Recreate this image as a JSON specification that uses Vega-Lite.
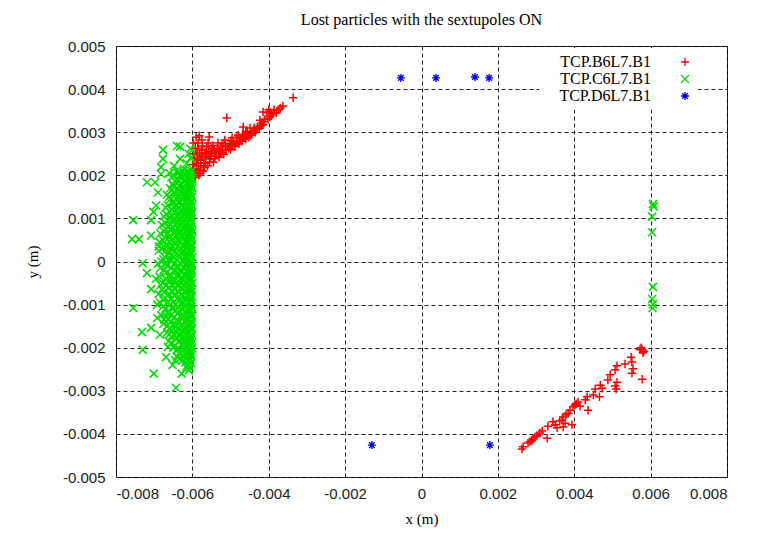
{
  "$schema": "https://vega.github.io/schema/vega-lite/v6.json",
  "autosize": {"type": "none"},
  "width": 611,
  "height": 431,
  "padding": {"left": 116, "top": 46, "right": 30, "bottom": 66},
  "background": "white",
  "title": {"text": "Lost particles with the sextupoles ON", "font": "Liberation Serif", "fontSize": 16, "fontWeight": "normal", "color": "black", "offset": 11},
  "config": {
    "view": {"stroke": "black", "strokeWidth": 1},
    "axis": {"domain": false, "ticks": false, "grid": true, "gridColor": "#222222", "gridDash": [4, 3], "gridWidth": 1, "gridOpacity": 1, "labelFont": "Liberation Sans", "labelFontSize": 15, "labelColor": "#222222", "titleFont": "Liberation Serif", "titleFontSize": 15, "titleFontWeight": "normal", "titleColor": "black"}
  },
  "datasets": {
    "B": [
      {"x": -0.00595, "y": 0.00195}, {"x": -0.00592, "y": 0.00205}, {"x": -0.00596, "y": 0.00215}, {"x": -0.0059, "y": 0.00228}, {"x": -0.00594, "y": 0.0024}, {"x": -0.00588, "y": 0.00252}, {"x": -0.00592, "y": 0.00263}, {"x": -0.00585, "y": 0.00275}, {"x": -0.0059, "y": 0.00288},
      {"x": -0.00583, "y": 0.002}, {"x": -0.0058, "y": 0.00212}, {"x": -0.00584, "y": 0.00222}, {"x": -0.00578, "y": 0.00235}, {"x": -0.00581, "y": 0.00247}, {"x": -0.00576, "y": 0.00258}, {"x": -0.00575, "y": 0.00282},
      {"x": -0.00572, "y": 0.0021}, {"x": -0.00568, "y": 0.00218}, {"x": -0.0057, "y": 0.00229}, {"x": -0.00565, "y": 0.00241}, {"x": -0.00567, "y": 0.00253}, {"x": -0.00563, "y": 0.00266}, {"x": -0.00556, "y": 0.00289},
      {"x": -0.0056, "y": 0.00222}, {"x": -0.00555, "y": 0.00231}, {"x": -0.00552, "y": 0.00244}, {"x": -0.00557, "y": 0.00255}, {"x": -0.00549, "y": 0.00262},
      {"x": -0.00545, "y": 0.0023}, {"x": -0.00541, "y": 0.00239}, {"x": -0.00538, "y": 0.0025}, {"x": -0.00543, "y": 0.00258}, {"x": -0.00533, "y": 0.00275},
      {"x": -0.0053, "y": 0.00242}, {"x": -0.00527, "y": 0.00251}, {"x": -0.00522, "y": 0.0026}, {"x": -0.00525, "y": 0.00268}, {"x": -0.00515, "y": 0.00282},
      {"x": -0.00518, "y": 0.00249}, {"x": -0.00512, "y": 0.00258}, {"x": -0.00508, "y": 0.00266}, {"x": -0.00503, "y": 0.00273}, {"x": -0.0051, "y": 0.00333},
      {"x": -0.005, "y": 0.00259}, {"x": -0.00496, "y": 0.00268}, {"x": -0.00496, "y": 0.00287}, {"x": -0.00492, "y": 0.00276}, {"x": -0.00488, "y": 0.00267},
      {"x": -0.00484, "y": 0.0028}, {"x": -0.0048, "y": 0.00293}, {"x": -0.00478, "y": 0.00273}, {"x": -0.00474, "y": 0.00285}, {"x": -0.0047, "y": 0.00279},
      {"x": -0.00467, "y": 0.00312}, {"x": -0.00465, "y": 0.0029}, {"x": -0.0046, "y": 0.003}, {"x": -0.0046, "y": 0.00284}, {"x": -0.00455, "y": 0.00293},
      {"x": -0.00449, "y": 0.0031}, {"x": -0.00452, "y": 0.00288}, {"x": -0.00445, "y": 0.00297}, {"x": -0.0044, "y": 0.00304}, {"x": -0.00435, "y": 0.003},
      {"x": -0.0043, "y": 0.00312}, {"x": -0.00423, "y": 0.00328}, {"x": -0.00425, "y": 0.00309}, {"x": -0.00415, "y": 0.00317}, {"x": -0.00418, "y": 0.00322},
      {"x": -0.00415, "y": 0.00347}, {"x": -0.0041, "y": 0.0033}, {"x": -0.004, "y": 0.00352}, {"x": -0.00397, "y": 0.00335}, {"x": -0.00392, "y": 0.0034},
      {"x": -0.00386, "y": 0.00352}, {"x": -0.0038, "y": 0.00345}, {"x": -0.0037, "y": 0.00356}, {"x": -0.00363, "y": 0.00361}, {"x": -0.00336, "y": 0.0038}, {"x": -0.00405, "y": 0.00345},
      {"x": -0.00598, "y": 0.002}, {"x": -0.00598, "y": 0.00225}, {"x": -0.00597, "y": 0.0025}, {"x": -0.00597, "y": 0.00275}, {"x": -0.00588, "y": 0.00215},
      {"x": -0.00586, "y": 0.00238}, {"x": -0.00586, "y": 0.00262}, {"x": -0.00582, "y": 0.00292}, {"x": -0.00578, "y": 0.00222}, {"x": -0.00574, "y": 0.00245},
      {"x": -0.00573, "y": 0.00268}, {"x": -0.00566, "y": 0.00228}, {"x": -0.00562, "y": 0.0025}, {"x": -0.00559, "y": 0.00275}, {"x": -0.00553, "y": 0.00238},
      {"x": -0.0055, "y": 0.00253}, {"x": -0.00546, "y": 0.00269}, {"x": -0.0054, "y": 0.00245}, {"x": -0.00535, "y": 0.00262}, {"x": -0.0053, "y": 0.00257},
      {"x": -0.00523, "y": 0.00253}, {"x": -0.0052, "y": 0.00273}, {"x": -0.00513, "y": 0.00268}, {"x": -0.00505, "y": 0.00262}, {"x": -0.00499, "y": 0.0028},
      {"x": -0.0049, "y": 0.0027}, {"x": -0.00485, "y": 0.00288}, {"x": -0.00476, "y": 0.0028}, {"x": -0.00468, "y": 0.00295}, {"x": -0.00462, "y": 0.00288},
      {"x": -0.00456, "y": 0.00302}, {"x": -0.00447, "y": 0.00293}, {"x": -0.00438, "y": 0.0031}, {"x": -0.00432, "y": 0.00306}, {"x": -0.0042, "y": 0.00315},
      {"x": -0.00412, "y": 0.00325}, {"x": -0.00402, "y": 0.0033}, {"x": -0.00395, "y": 0.00346}, {"x": -0.00388, "y": 0.00345}, {"x": -0.00375, "y": 0.00352},
      {"x": -0.00592, "y": 0.00196}, {"x": -0.00579, "y": 0.00205},
      {"x": 0.00578, "y": -0.00205}, {"x": 0.00575, "y": -0.002}, {"x": 0.00582, "y": -0.00208}, {"x": 0.00572, "y": -0.00204}, {"x": 0.0058, "y": -0.00212},
      {"x": 0.00549, "y": -0.00222}, {"x": 0.00551, "y": -0.00233}, {"x": 0.00533, "y": -0.00238}, {"x": 0.00512, "y": -0.00242}, {"x": 0.00507, "y": -0.00252},
      {"x": 0.00494, "y": -0.00263}, {"x": 0.00554, "y": -0.00249}, {"x": 0.00551, "y": -0.00259}, {"x": 0.00578, "y": -0.00273}, {"x": 0.00488, "y": -0.00275},
      {"x": 0.00512, "y": -0.0028}, {"x": 0.00507, "y": -0.00289}, {"x": 0.0051, "y": -0.00296}, {"x": 0.00468, "y": -0.00287}, {"x": 0.00473, "y": -0.00294},
      {"x": 0.00455, "y": -0.00296}, {"x": 0.0045, "y": -0.0031}, {"x": 0.00466, "y": -0.00314}, {"x": 0.00434, "y": -0.00314}, {"x": 0.00429, "y": -0.00321},
      {"x": 0.0041, "y": -0.00326}, {"x": 0.00402, "y": -0.00333}, {"x": 0.00397, "y": -0.00337}, {"x": 0.00436, "y": -0.00345}, {"x": 0.00389, "y": -0.00345},
      {"x": 0.00384, "y": -0.00352}, {"x": 0.00378, "y": -0.00356}, {"x": 0.00371, "y": -0.00361}, {"x": 0.00368, "y": -0.00368}, {"x": 0.00376, "y": -0.00375},
      {"x": 0.00344, "y": -0.00372}, {"x": 0.0035, "y": -0.00379}, {"x": 0.00331, "y": -0.00382}, {"x": 0.00394, "y": -0.00379}, {"x": 0.00371, "y": -0.00384},
      {"x": 0.00316, "y": -0.00393}, {"x": 0.00297, "y": -0.00407}, {"x": 0.00292, "y": -0.00412}, {"x": 0.00289, "y": -0.00416}, {"x": 0.00329, "y": -0.0041},
      {"x": 0.00279, "y": -0.00421}, {"x": 0.00266, "y": -0.0043}, {"x": 0.00263, "y": -0.00435}, {"x": 0.00355, "y": -0.00386}, {"x": 0.00362, "y": -0.0037},
      {"x": 0.00405, "y": -0.0033}, {"x": 0.00415, "y": -0.00336}, {"x": 0.00302, "y": -0.00404}, {"x": 0.0031, "y": -0.00398}, {"x": 0.00284, "y": -0.00418}
    ],
    "C": [
      {"x": -0.0064, "y": 0.00268}, {"x": -0.00632, "y": 0.00266}, {"x": -0.00677, "y": 0.00259}, {"x": -0.00677, "y": 0.00238}, {"x": -0.00632, "y": 0.00238},
      {"x": -0.00682, "y": 0.00219}, {"x": -0.00682, "y": 0.00203}, {"x": -0.0061, "y": 0.0025}, {"x": -0.00615, "y": 0.00228}, {"x": -0.00605, "y": 0.0024},
      {"x": -0.00622, "y": 0.00215}, {"x": -0.00648, "y": 0.00222}, {"x": -0.00605, "y": 0.00262}, {"x": -0.00612, "y": 0.00205}, {"x": -0.0064, "y": 0.0021}, {"x": -0.0066, "y": 0.00205},
      {"x": -0.00719, "y": 0.00184}, {"x": -0.00698, "y": 0.00184}, {"x": -0.00755, "y": 0.00096}, {"x": -0.00708, "y": 0.00096}, {"x": -0.00758, "y": 0.00052},
      {"x": -0.0074, "y": 0.00052}, {"x": -0.00708, "y": 0.0006}, {"x": -0.00755, "y": -0.00108}, {"x": -0.00732, "y": -0.00164}, {"x": -0.00708, "y": -0.00154},
      {"x": -0.0073, "y": -0.00205}, {"x": -0.00701, "y": -0.0026}, {"x": -0.00643, "y": -0.00293}, {"x": -0.00719, "y": -0.00027}, {"x": -0.00708, "y": -0.00064},
      {"x": -0.00692, "y": -0.00131}, {"x": -0.00669, "y": -0.00222}, {"x": -0.00664, "y": -0.00198}, {"x": -0.00645, "y": -0.00229}, {"x": -0.00609, "y": -0.00252},
      {"x": -0.0073, "y": -0.00004}, {"x": -0.00692, "y": -0.001}, {"x": -0.00695, "y": 0.0013}, {"x": -0.00702, "y": 0.00115}, {"x": -0.00688, "y": 0.00035},
      {"x": -0.00696, "y": -0.0004}, {"x": -0.00685, "y": -0.0017}, {"x": -0.00652, "y": -0.0024}, {"x": -0.00628, "y": -0.0026}, {"x": -0.0069, "y": 0.0016},
      {"x": -0.00602, "y": 0.0021}, {"x": -0.00611, "y": 0.0021}, {"x": -0.00625, "y": 0.0021},
      {"x": -0.00604, "y": 0.002}, {"x": -0.00618, "y": 0.002}, {"x": -0.00633, "y": 0.002}, {"x": -0.00648, "y": 0.002},
      {"x": -0.00601, "y": 0.0019}, {"x": -0.00609, "y": 0.0019}, {"x": -0.00622, "y": 0.0019}, {"x": -0.00641, "y": 0.0019},
      {"x": -0.00603, "y": 0.0018}, {"x": -0.00615, "y": 0.0018}, {"x": -0.00629, "y": 0.0018}, {"x": -0.00652, "y": 0.0018},
      {"x": -0.006, "y": 0.0017}, {"x": -0.00612, "y": 0.0017}, {"x": -0.00626, "y": 0.0017}, {"x": -0.00639, "y": 0.0017}, {"x": -0.00658, "y": 0.0017},
      {"x": -0.00605, "y": 0.0016}, {"x": -0.00617, "y": 0.0016}, {"x": -0.00631, "y": 0.0016}, {"x": -0.00646, "y": 0.0016},
      {"x": -0.00601, "y": 0.0015}, {"x": -0.00613, "y": 0.0015}, {"x": -0.00624, "y": 0.0015}, {"x": -0.00637, "y": 0.0015}, {"x": -0.00661, "y": 0.0015},
      {"x": -0.00603, "y": 0.0014}, {"x": -0.00619, "y": 0.0014}, {"x": -0.00634, "y": 0.0014}, {"x": -0.0065, "y": 0.0014},
      {"x": -0.006, "y": 0.0013}, {"x": -0.0061, "y": 0.0013}, {"x": -0.00627, "y": 0.0013}, {"x": -0.00643, "y": 0.0013}, {"x": -0.00664, "y": 0.0013},
      {"x": -0.00604, "y": 0.0012}, {"x": -0.00616, "y": 0.0012}, {"x": -0.0063, "y": 0.0012}, {"x": -0.00655, "y": 0.0012},
      {"x": -0.00602, "y": 0.0011}, {"x": -0.00611, "y": 0.0011}, {"x": -0.00623, "y": 0.0011}, {"x": -0.00638, "y": 0.0011}, {"x": -0.00668, "y": 0.0011},
      {"x": -0.00605, "y": 0.001}, {"x": -0.00619, "y": 0.001}, {"x": -0.00633, "y": 0.001}, {"x": -0.00647, "y": 0.001}, {"x": -0.0066, "y": 0.001},
      {"x": -0.00601, "y": 0.0009}, {"x": -0.00614, "y": 0.0009}, {"x": -0.00628, "y": 0.0009}, {"x": -0.00642, "y": 0.0009}, {"x": -0.00671, "y": 0.0009},
      {"x": -0.00603, "y": 0.0008}, {"x": -0.00612, "y": 0.0008}, {"x": -0.00625, "y": 0.0008}, {"x": -0.00651, "y": 0.0008}, {"x": -0.00665, "y": 0.0008},
      {"x": -0.006, "y": 0.0007}, {"x": -0.00617, "y": 0.0007}, {"x": -0.00632, "y": 0.0007}, {"x": -0.00645, "y": 0.0007}, {"x": -0.00674, "y": 0.0007},
      {"x": -0.00604, "y": 0.0006}, {"x": -0.00613, "y": 0.0006}, {"x": -0.00627, "y": 0.0006}, {"x": -0.0064, "y": 0.0006}, {"x": -0.00659, "y": 0.0006},
      {"x": -0.00602, "y": 0.0005}, {"x": -0.00618, "y": 0.0005}, {"x": -0.00636, "y": 0.0005}, {"x": -0.00653, "y": 0.0005}, {"x": -0.00677, "y": 0.0005},
      {"x": -0.00601, "y": 0.0004}, {"x": -0.00611, "y": 0.0004}, {"x": -0.00624, "y": 0.0004}, {"x": -0.00644, "y": 0.0004}, {"x": -0.00668, "y": 0.0004},
      {"x": -0.00605, "y": 0.0003}, {"x": -0.00616, "y": 0.0003}, {"x": -0.0063, "y": 0.0003}, {"x": -0.00657, "y": 0.0003}, {"x": -0.00679, "y": 0.0003},
      {"x": -0.00603, "y": 0.0002}, {"x": -0.00614, "y": 0.0002}, {"x": -0.00629, "y": 0.0002}, {"x": -0.00641, "y": 0.0002}, {"x": -0.00662, "y": 0.0002},
      {"x": -0.006, "y": 0.0001}, {"x": -0.00619, "y": 0.0001}, {"x": -0.00634, "y": 0.0001}, {"x": -0.00649, "y": 0.0001}, {"x": -0.00672, "y": 0.0001},
      {"x": -0.00604, "y": 0.0}, {"x": -0.00612, "y": 0.0}, {"x": -0.00626, "y": 0.0}, {"x": -0.00655, "y": 0.0}, {"x": -0.00681, "y": 0.0},
      {"x": -0.00602, "y": -0.0001}, {"x": -0.00617, "y": -0.0001}, {"x": -0.00638, "y": -0.0001}, {"x": -0.00666, "y": -0.0001},
      {"x": -0.00601, "y": -0.0002}, {"x": -0.00613, "y": -0.0002}, {"x": -0.00631, "y": -0.0002}, {"x": -0.00646, "y": -0.0002}, {"x": -0.00675, "y": -0.0002},
      {"x": -0.00605, "y": -0.0003}, {"x": -0.0062, "y": -0.0003}, {"x": -0.00635, "y": -0.0003}, {"x": -0.00658, "y": -0.0003},
      {"x": -0.00603, "y": -0.0004}, {"x": -0.00611, "y": -0.0004}, {"x": -0.00627, "y": -0.0004}, {"x": -0.0065, "y": -0.0004}, {"x": -0.0067, "y": -0.0004},
      {"x": -0.006, "y": -0.0005}, {"x": -0.00616, "y": -0.0005}, {"x": -0.00632, "y": -0.0005}, {"x": -0.00643, "y": -0.0005}, {"x": -0.00678, "y": -0.0005},
      {"x": -0.00604, "y": -0.0006}, {"x": -0.00614, "y": -0.0006}, {"x": -0.00629, "y": -0.0006}, {"x": -0.00661, "y": -0.0006},
      {"x": -0.00602, "y": -0.0007}, {"x": -0.00618, "y": -0.0007}, {"x": -0.00637, "y": -0.0007}, {"x": -0.00654, "y": -0.0007}, {"x": -0.00673, "y": -0.0007},
      {"x": -0.00601, "y": -0.0008}, {"x": -0.00612, "y": -0.0008}, {"x": -0.00625, "y": -0.0008}, {"x": -0.00647, "y": -0.0008}, {"x": -0.00665, "y": -0.0008},
      {"x": -0.00605, "y": -0.0009}, {"x": -0.00619, "y": -0.0009}, {"x": -0.00634, "y": -0.0009}, {"x": -0.00676, "y": -0.0009},
      {"x": -0.00603, "y": -0.001}, {"x": -0.00615, "y": -0.001}, {"x": -0.0063, "y": -0.001}, {"x": -0.00644, "y": -0.001}, {"x": -0.00659, "y": -0.001},
      {"x": -0.006, "y": -0.0011}, {"x": -0.00611, "y": -0.0011}, {"x": -0.00626, "y": -0.0011}, {"x": -0.00652, "y": -0.0011}, {"x": -0.00671, "y": -0.0011},
      {"x": -0.00604, "y": -0.0012}, {"x": -0.00617, "y": -0.0012}, {"x": -0.00639, "y": -0.0012}, {"x": -0.00663, "y": -0.0012},
      {"x": -0.00602, "y": -0.0013}, {"x": -0.00613, "y": -0.0013}, {"x": -0.00628, "y": -0.0013}, {"x": -0.00648, "y": -0.0013}, {"x": -0.00669, "y": -0.0013},
      {"x": -0.00601, "y": -0.0014}, {"x": -0.0062, "y": -0.0014}, {"x": -0.00635, "y": -0.0014}, {"x": -0.00657, "y": -0.0014},
      {"x": -0.00605, "y": -0.0015}, {"x": -0.00614, "y": -0.0015}, {"x": -0.00631, "y": -0.0015}, {"x": -0.00645, "y": -0.0015}, {"x": -0.00666, "y": -0.0015},
      {"x": -0.00603, "y": -0.0016}, {"x": -0.00618, "y": -0.0016}, {"x": -0.00627, "y": -0.0016}, {"x": -0.00653, "y": -0.0016},
      {"x": -0.006, "y": -0.0017}, {"x": -0.00612, "y": -0.0017}, {"x": -0.00633, "y": -0.0017}, {"x": -0.00648, "y": -0.0017}, {"x": -0.00661, "y": -0.0017},
      {"x": -0.00604, "y": -0.0018}, {"x": -0.00616, "y": -0.0018}, {"x": -0.00629, "y": -0.0018}, {"x": -0.00643, "y": -0.0018},
      {"x": -0.00602, "y": -0.0019}, {"x": -0.00611, "y": -0.0019}, {"x": -0.00624, "y": -0.0019}, {"x": -0.00656, "y": -0.0019},
      {"x": -0.00601, "y": -0.002}, {"x": -0.00619, "y": -0.002}, {"x": -0.00637, "y": -0.002}, {"x": -0.0065, "y": -0.002},
      {"x": -0.00605, "y": -0.0021}, {"x": -0.00614, "y": -0.0021}, {"x": -0.0063, "y": -0.0021},
      {"x": -0.00603, "y": -0.0022}, {"x": -0.00622, "y": -0.0022}, {"x": -0.00641, "y": -0.0022},
      {"x": -0.00608, "y": -0.0023}, {"x": -0.00626, "y": -0.0023}, {"x": -0.00612, "y": -0.0024},
      {"x": -0.00607, "y": 0.00205}, {"x": -0.00621, "y": 0.00205}, {"x": -0.00638, "y": 0.00205},
      {"x": -0.00603, "y": 0.00195}, {"x": -0.00614, "y": 0.00195}, {"x": -0.0063, "y": 0.00195}, {"x": -0.00655, "y": 0.00195},
      {"x": -0.00606, "y": 0.00185}, {"x": -0.0062, "y": 0.00185}, {"x": -0.00636, "y": 0.00185}, {"x": -0.00645, "y": 0.00185},
      {"x": -0.00602, "y": 0.00175}, {"x": -0.0061, "y": 0.00175}, {"x": -0.00633, "y": 0.00175}, {"x": -0.00649, "y": 0.00175},
      {"x": -0.00607, "y": 0.00165}, {"x": -0.00622, "y": 0.00165}, {"x": -0.00636, "y": 0.00165}, {"x": -0.00654, "y": 0.00165},
      {"x": -0.00604, "y": 0.00155}, {"x": -0.00619, "y": 0.00155}, {"x": -0.00629, "y": 0.00155}, {"x": -0.00644, "y": 0.00155}, {"x": -0.00667, "y": 0.00155},
      {"x": -0.00606, "y": 0.00145}, {"x": -0.00612, "y": 0.00145}, {"x": -0.00626, "y": 0.00145}, {"x": -0.00641, "y": 0.00145}, {"x": -0.00657, "y": 0.00145},
      {"x": -0.00603, "y": 0.00135}, {"x": -0.00617, "y": 0.00135}, {"x": -0.00635, "y": 0.00135}, {"x": -0.00652, "y": 0.00135},
      {"x": -0.00607, "y": 0.00125}, {"x": -0.00621, "y": 0.00125}, {"x": -0.00637, "y": 0.00125}, {"x": -0.00648, "y": 0.00125}, {"x": -0.0067, "y": 0.00125},
      {"x": -0.00602, "y": 0.00115}, {"x": -0.00615, "y": 0.00115}, {"x": -0.00628, "y": 0.00115}, {"x": -0.00645, "y": 0.00115}, {"x": -0.00659, "y": 0.00115},
      {"x": -0.00606, "y": 0.00105}, {"x": -0.00612, "y": 0.00105}, {"x": -0.00626, "y": 0.00105}, {"x": -0.0064, "y": 0.00105}, {"x": -0.00654, "y": 0.00105}, {"x": -0.00675, "y": 0.00105},
      {"x": -0.00603, "y": 0.00095}, {"x": -0.0062, "y": 0.00095}, {"x": -0.00635, "y": 0.00095}, {"x": -0.00649, "y": 0.00095}, {"x": -0.00663, "y": 0.00095},
      {"x": -0.00607, "y": 0.00085}, {"x": -0.00616, "y": 0.00085}, {"x": -0.00631, "y": 0.00085}, {"x": -0.00644, "y": 0.00085}, {"x": -0.00658, "y": 0.00085}, {"x": -0.0068, "y": 0.00085},
      {"x": -0.00602, "y": 0.00075}, {"x": -0.00611, "y": 0.00075}, {"x": -0.00623, "y": 0.00075}, {"x": -0.00638, "y": 0.00075}, {"x": -0.00656, "y": 0.00075}, {"x": -0.00669, "y": 0.00075},
      {"x": -0.00606, "y": 0.00065}, {"x": -0.00621, "y": 0.00065}, {"x": -0.00634, "y": 0.00065}, {"x": -0.00648, "y": 0.00065}, {"x": -0.00664, "y": 0.00065}, {"x": -0.00684, "y": 0.00065},
      {"x": -0.00604, "y": 0.00055}, {"x": -0.00613, "y": 0.00055}, {"x": -0.00627, "y": 0.00055}, {"x": -0.00645, "y": 0.00055}, {"x": -0.00661, "y": 0.00055}, {"x": -0.00671, "y": 0.00055},
      {"x": -0.00607, "y": 0.00045}, {"x": -0.00616, "y": 0.00045}, {"x": -0.00632, "y": 0.00045}, {"x": -0.00648, "y": 0.00045}, {"x": -0.00659, "y": 0.00045}, {"x": -0.00686, "y": 0.00045},
      {"x": -0.00602, "y": 0.00035}, {"x": -0.00622, "y": 0.00035}, {"x": -0.00638, "y": 0.00035}, {"x": -0.00651, "y": 0.00035}, {"x": -0.00666, "y": 0.00035},
      {"x": -0.00606, "y": 0.00025}, {"x": -0.00611, "y": 0.00025}, {"x": -0.00625, "y": 0.00025}, {"x": -0.00646, "y": 0.00025}, {"x": -0.00669, "y": 0.00025}, {"x": -0.00688, "y": 0.00025},
      {"x": -0.00604, "y": 0.00015}, {"x": -0.00617, "y": 0.00015}, {"x": -0.00637, "y": 0.00015}, {"x": -0.00654, "y": 0.00015}, {"x": -0.00665, "y": 0.00015},
      {"x": -0.00607, "y": 0.00005}, {"x": -0.00622, "y": 0.00005}, {"x": -0.00641, "y": 0.00005}, {"x": -0.0066, "y": 0.00005}, {"x": -0.00676, "y": 0.00005},
      {"x": -0.00603, "y": -0.00005}, {"x": -0.00615, "y": -0.00005}, {"x": -0.00631, "y": -0.00005}, {"x": -0.00647, "y": -0.00005}, {"x": -0.00668, "y": -0.00005}, {"x": -0.0069, "y": -0.00005},
      {"x": -0.00606, "y": -0.00015}, {"x": -0.00624, "y": -0.00015}, {"x": -0.00642, "y": -0.00015}, {"x": -0.00655, "y": -0.00015}, {"x": -0.00684, "y": -0.00015},
      {"x": -0.00602, "y": -0.00025}, {"x": -0.00611, "y": -0.00025}, {"x": -0.00628, "y": -0.00025}, {"x": -0.00645, "y": -0.00025}, {"x": -0.00667, "y": -0.00025},
      {"x": -0.00607, "y": -0.00035}, {"x": -0.00619, "y": -0.00035}, {"x": -0.00639, "y": -0.00035}, {"x": -0.00661, "y": -0.00035}, {"x": -0.00686, "y": -0.00035},
      {"x": -0.00604, "y": -0.00045}, {"x": -0.00623, "y": -0.00045}, {"x": -0.00648, "y": -0.00045}, {"x": -0.00657, "y": -0.00045}, {"x": -0.00664, "y": -0.00045},
      {"x": -0.00606, "y": -0.00055}, {"x": -0.00621, "y": -0.00055}, {"x": -0.0064, "y": -0.00055}, {"x": -0.00652, "y": -0.00055}, {"x": -0.00669, "y": -0.00055}, {"x": -0.00683, "y": -0.00055},
      {"x": -0.00603, "y": -0.00065}, {"x": -0.0061, "y": -0.00065}, {"x": -0.00626, "y": -0.00065}, {"x": -0.00646, "y": -0.00065}, {"x": -0.0068, "y": -0.00065},
      {"x": -0.00607, "y": -0.00075}, {"x": -0.00628, "y": -0.00075}, {"x": -0.00643, "y": -0.00075}, {"x": -0.00661, "y": -0.00075}, {"x": -0.00688, "y": -0.00075},
      {"x": -0.00604, "y": -0.00085}, {"x": -0.00622, "y": -0.00085}, {"x": -0.00639, "y": -0.00085}, {"x": -0.00655, "y": -0.00085}, {"x": -0.0067, "y": -0.00085},
      {"x": -0.00606, "y": -0.00095}, {"x": -0.00611, "y": -0.00095}, {"x": -0.00625, "y": -0.00095}, {"x": -0.00649, "y": -0.00095}, {"x": -0.00665, "y": -0.00095}, {"x": -0.00685, "y": -0.00095},
      {"x": -0.00602, "y": -0.00105}, {"x": -0.0062, "y": -0.00105}, {"x": -0.00637, "y": -0.00105}, {"x": -0.00652, "y": -0.00105}, {"x": -0.00677, "y": -0.00105},
      {"x": -0.00607, "y": -0.00115}, {"x": -0.00617, "y": -0.00115}, {"x": -0.00633, "y": -0.00115}, {"x": -0.00645, "y": -0.00115}, {"x": -0.00662, "y": -0.00115},
      {"x": -0.00603, "y": -0.00125}, {"x": -0.00623, "y": -0.00125}, {"x": -0.00629, "y": -0.00125}, {"x": -0.00656, "y": -0.00125}, {"x": -0.00681, "y": -0.00125},
      {"x": -0.00606, "y": -0.00135}, {"x": -0.00612, "y": -0.00135}, {"x": -0.0064, "y": -0.00135}, {"x": -0.00663, "y": -0.00135}, {"x": -0.00674, "y": -0.00135},
      {"x": -0.00604, "y": -0.00145}, {"x": -0.00626, "y": -0.00145}, {"x": -0.00644, "y": -0.00145}, {"x": -0.00651, "y": -0.00145}, {"x": -0.00676, "y": -0.00145},
      {"x": -0.00602, "y": -0.00155}, {"x": -0.00618, "y": -0.00155}, {"x": -0.00638, "y": -0.00155}, {"x": -0.0066, "y": -0.00155},
      {"x": -0.00607, "y": -0.00165}, {"x": -0.00621, "y": -0.00165}, {"x": -0.0064, "y": -0.00165}, {"x": -0.00666, "y": -0.00165},
      {"x": -0.00604, "y": -0.00175}, {"x": -0.00625, "y": -0.00175}, {"x": -0.00642, "y": -0.00175}, {"x": -0.00655, "y": -0.00175},
      {"x": -0.00606, "y": -0.00185}, {"x": -0.0062, "y": -0.00185}, {"x": -0.00635, "y": -0.00185}, {"x": -0.00662, "y": -0.00185},
      {"x": -0.00603, "y": -0.00195}, {"x": -0.00614, "y": -0.00195}, {"x": -0.00628, "y": -0.00195}, {"x": -0.00646, "y": -0.00195},
      {"x": -0.00607, "y": -0.00205}, {"x": -0.00623, "y": -0.00205}, {"x": -0.0064, "y": -0.00205},
      {"x": -0.00604, "y": -0.00215}, {"x": -0.00618, "y": -0.00215}, {"x": -0.00634, "y": -0.00215},
      {"x": -0.00606, "y": -0.00225}, {"x": -0.00615, "y": -0.00225}, {"x": -0.00632, "y": -0.00225},
      {"x": -0.00603, "y": -0.00235}, {"x": -0.00619, "y": -0.00235}, {"x": -0.00607, "y": -0.00245}, {"x": -0.00616, "y": -0.00245},
      {"x": 0.00606, "y": 0.00133}, {"x": 0.00608, "y": 0.00128}, {"x": 0.00604, "y": 0.00104}, {"x": 0.00604, "y": 0.00068},
      {"x": 0.00606, "y": -0.00059}, {"x": 0.00604, "y": -0.00087}, {"x": 0.00606, "y": -0.00099}, {"x": 0.00605, "y": -0.00108}
    ],
    "D": [
      {"x": -0.00054, "y": 0.00426}, {"x": 0.00038, "y": 0.00426}, {"x": 0.0014, "y": 0.00428}, {"x": 0.00177, "y": 0.00426},
      {"x": -0.0013, "y": -0.00426}, {"x": 0.00179, "y": -0.00426}
    ]
  },
  "encoding": {
    "x": {"field": "x", "type": "quantitative", "title": "x (m)",
      "scale": {"domain": [-0.008, 0.008], "nice": false, "zero": false},
      "axis": {"values": [-0.008, -0.006, -0.004, -0.002, 0, 0.002, 0.004, 0.006, 0.008], "labelPadding": 9, "titlePadding": 10,
        "labelExpr": "datum.value < 0 ? '-' + format(-datum.value, '~g') : format(datum.value, '~g')"}},
    "y": {"field": "y", "type": "quantitative", "title": "y (m)",
      "scale": {"domain": [-0.005, 0.005], "nice": false, "zero": false},
      "axis": {"values": [-0.005, -0.004, -0.003, -0.002, -0.001, 0, 0.001, 0.002, 0.003, 0.004, 0.005], "labelPadding": 11, "titlePadding": 22,
        "labelExpr": "datum.value < 0 ? '-' + format(-datum.value, '~g') : format(datum.value, '~g')"}}
  },
  "layer": [
    {"data": {"name": "B"}, "mark": {"type": "point", "filled": false, "strokeWidth": 1.5, "size": 72, "opacity": 1},
      "encoding": {
        "color": {"datum": "TCP.B6L7.B1", "type": "nominal",
          "scale": {"domain": ["TCP.B6L7.B1", "TCP.C6L7.B1", "TCP.D6L7.B1"], "range": ["#ff0000", "#00e000", "#0000ff"]},
          "legend": {"title": null, "orient": "none", "legendX": 423, "legendY": 2, "labelFont": "Liberation Serif", "labelFontSize": 16, "labelColor": "black", "labelAlign": "right", "labelOffset": -42, "symbolOffset": 132, "symbolSize": 64, "symbolStrokeWidth": 1.3, "rowPadding": 1, "fillColor": "white", "padding": 6}},
        "shape": {"datum": "TCP.B6L7.B1", "type": "nominal",
          "scale": {"domain": ["TCP.B6L7.B1", "TCP.C6L7.B1", "TCP.D6L7.B1"], "range": ["M-1,0H1M0,-1V1", "M-1,-1L1,1M-1,1L1,-1", "M-1,0H1M0,-1V1M-0.7,-0.7L0.7,0.7M-0.7,0.7L0.7,-0.7"]}}
      }},
    {"data": {"name": "C"}, "mark": {"type": "point", "filled": false, "strokeWidth": 1.6, "size": 64, "opacity": 1},
      "encoding": {"color": {"datum": "TCP.C6L7.B1", "type": "nominal"}, "shape": {"datum": "TCP.C6L7.B1", "type": "nominal"}}},
    {"data": {"name": "D"}, "mark": {"type": "point", "filled": false, "strokeWidth": 1.4, "size": 64, "opacity": 1},
      "encoding": {"color": {"datum": "TCP.D6L7.B1", "type": "nominal"}, "shape": {"datum": "TCP.D6L7.B1", "type": "nominal"}}}
  ]
}
